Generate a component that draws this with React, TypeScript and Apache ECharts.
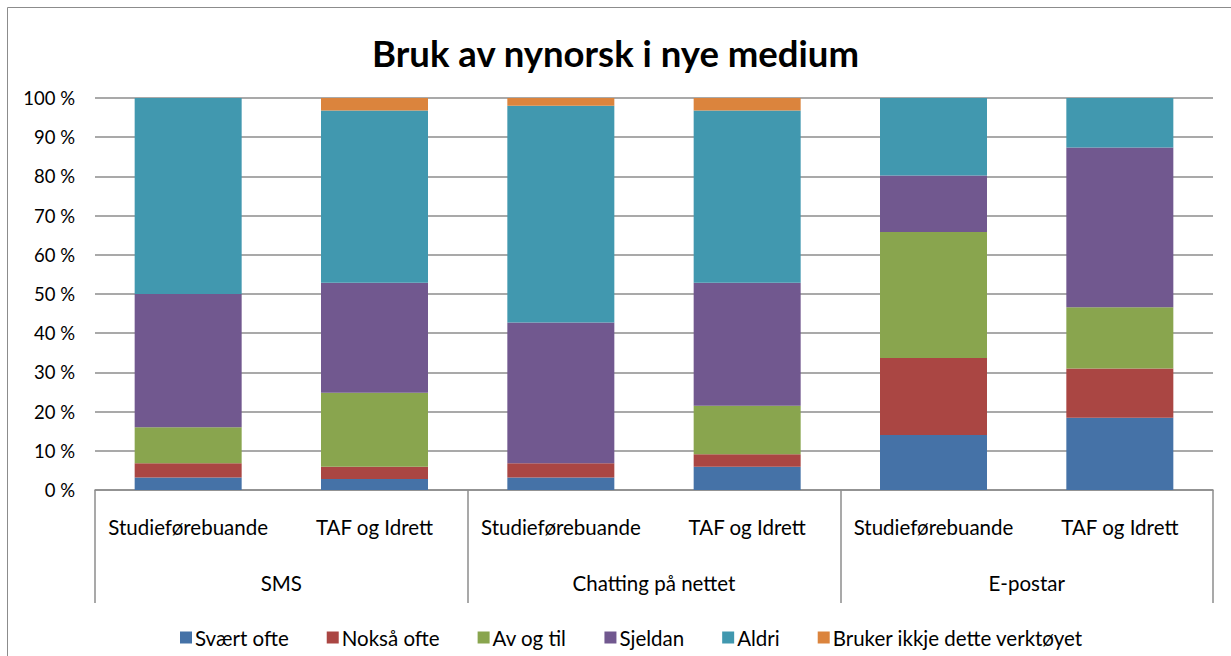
import React, { useEffect, useRef } from "react";
import * as echarts from "echarts";

const title = "Bruk av nynorsk i nye medium";
const subCategories = ["Studieførebuande", "TAF og Idrett", "Studieførebuande", "TAF og Idrett", "Studieførebuande", "TAF og Idrett"];
const groupCategories = ["SMS", "Chatting på nettet", "E-postar"];
const seriesNames = ["Svært ofte", "Nokså ofte", "Av og til", "Sjeldan", "Aldri", "Bruker ikkje dette verktøyet"];
const colors = ["#4572A7", "#AA4643", "#89A54E", "#71588F", "#4198AF", "#DB843D"];

const svaertOfte = [3.2, 2.8, 3.2, 5.9, 14.0, 18.4];
const noksaaOfte = [3.6, 3.1, 3.6, 3.2, 19.7, 12.6];
const avOgTil = [9.2, 18.9, 0, 12.4, 32.1, 15.6];
const sjeldan = [34.0, 28.1, 35.9, 31.4, 14.4, 40.8];
const aldri = [50.0, 43.9, 55.3, 43.9, 19.8, 12.6];
const brukerIkkje = [0, 3.2, 2.0, 3.2, 0, 0];

const yTicks = { min: 0, max: 100, interval: 10 };

const FONT = "Lato, 'Liberation Sans', sans-serif";

export default function App() {
  const ref = useRef<HTMLDivElement>(null);
  useEffect(() => {
    document.body.style.margin = "0";
    const chart = echarts.init(ref.current!, null, { renderer: "svg" });
    const allData = [svaertOfte, noksaaOfte, avOgTil, sjeldan, aldri, brukerIkkje];
    chart.setOption({
      animation: false,
      backgroundColor: "#ffffff",
      textStyle: { fontFamily: FONT },
      title: {
        text: title,
        left: "center",
        top: 29,
        textStyle: { fontSize: 36.5, fontWeight: "bold", color: "#000", fontFamily: FONT },
      },
      graphic: [
        {
          type: "rect",
          shape: { x: 7.5, y: 7.5, width: 1260, height: 700 },
          style: { fill: "none", stroke: "#8c8c8c", lineWidth: 1 },
          silent: true,
        },
      ],
      legend: {
        left: 175,
        top: 622,
        itemWidth: 12,
        itemHeight: 12,
        itemGap: 38,
        icon: "rect",
        textStyle: { fontSize: 20.5, color: "#000", fontFamily: FONT, padding: [0, 0, 0, -2] },
        data: seriesNames,
      },
      grid: { left: 95, right: 18, top: 98, bottom: 166, containLabel: false },
      xAxis: [
        {
          type: "category",
          position: "bottom",
          data: subCategories,
          axisLine: { show: true, lineStyle: { color: "#8c8c8c", width: 1.5 } },
          axisTick: { show: false },
          axisLabel: { margin: 26, fontSize: 20.5, color: "#000", fontFamily: FONT, interval: 0 },
        },
        {
          type: "category",
          position: "bottom",
          data: groupCategories,
          axisLine: { show: false },
          axisTick: { show: true, length: 113, lineStyle: { color: "#8c8c8c", width: 1.5 } },
          axisLabel: { margin: 82, fontSize: 20.5, color: "#000", fontFamily: FONT, interval: 0 },
        },
      ],
      yAxis: {
        type: "value",
        min: yTicks.min,
        max: yTicks.max,
        interval: yTicks.interval,
        axisLine: { show: false },
        axisTick: { show: false },
        axisLabel: { formatter: "{value} %", fontSize: 18.5, color: "#000", margin: 20, fontFamily: FONT },
        splitLine: { lineStyle: { color: "#8c8c8c", width: 1.5 } },
      },
      series: seriesNames.map((name, i) => ({
        name,
        type: "bar",
        stack: "total",
        xAxisIndex: 0,
        barWidth: 107,
        itemStyle: { color: colors[i] },
        data: allData[i],
      })),
    });
    return () => chart.dispose();
  }, []);
  return <div ref={ref} style={{ width: 1231, height: 656 }} />;
}
